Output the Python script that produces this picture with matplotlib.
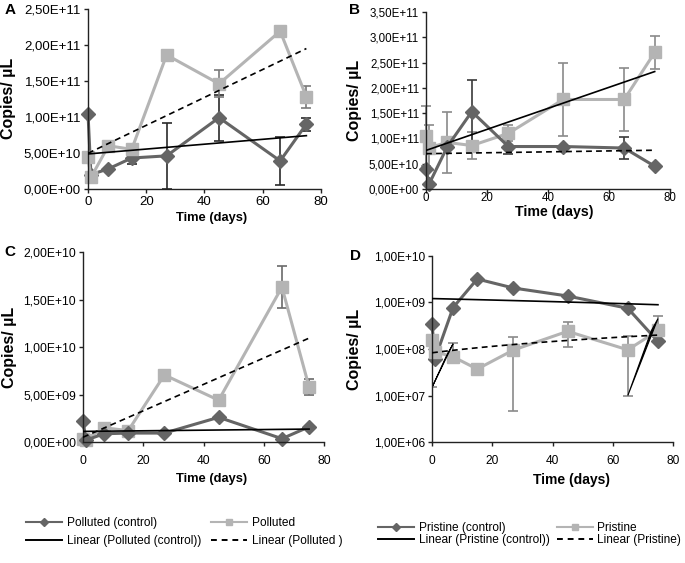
import matplotlib.pyplot as plt
import numpy as np
from matplotlib.lines import Line2D
from matplotlib.ticker import FixedLocator, FuncFormatter, NullLocator

plt.rcParams['font.family'] = ['Liberation Sans', 'DejaVu Sans']

# sampling days
days_polluted = [0, 1, 7, 15, 27, 45, 66, 75]
days_pristine = [0, 1, 7, 15, 27, 45, 65, 75]

nan = np.nan

# A - polluted site (copies/uL)
a_ctrl = [1.04e11, 2.0e10, 2.8e10, 4.3e10, 4.6e10, 9.9e10, 3.9e10, 9.0e10]
a_ctrl_err = [nan, nan, nan, 0.8e10, 4.6e10, 3.2e10, 3.3e10, 0.9e10]
a_treat = [4.4e10, 1.6e10, 6.0e10, 5.5e10, 1.86e11, 1.46e11, 2.19e11, 1.28e11]
a_treat_err = [nan, nan, nan, nan, nan, 1.9e10, nan, 1.5e10]

# B - pristine site
b_ctrl = [3.9e10, 1.0e10, 8.4e10, 1.53e11, 8.4e10, 8.4e10, 8.1e10, 4.5e10]
b_ctrl_err = [nan, nan, nan, 6.3e10, 1.5e10, nan, 2.1e10, nan]
b_treat = [1.05e11, 0.82e11, 0.92e11, 0.86e11, 1.10e11, 1.77e11, 1.77e11, 2.70e11]
b_treat_err = [6.0e10, 4.5e10, 6.0e10, 2.6e10, 1.6e10, 7.2e10, 6.3e10, 3.3e10]

# C - polluted site, second gene
c_ctrl = [2.2e9, 2.0e8, 8.7e8, 9.4e8, 9.4e8, 2.6e9, 3.5e8, 1.6e9]
c_ctrl_err = [nan] * 8
c_treat = [3.5e8, 2.4e8, 1.5e9, 1.2e9, 7.06e9, 4.4e9, 1.63e10, 5.8e9]
c_treat_err = [nan, nan, nan, nan, nan, nan, 2.2e9, 0.85e9]

# D - pristine site, second gene (log axis, asymmetric bars as low/high bounds)
d_ctrl = [3.5e8, 6.2e7, 7.8e8, 3.2e9, 2.05e9, 1.38e9, 7.5e8, 1.45e8]
d_treat = [1.55e8, 8.7e7, 6.8e7, 3.7e7, 9.5e7, 2.4e8, 9.6e7, 2.5e8]
d_treat_lo = [1.5e7, nan, 6.8e7, nan, 4.6e6, 1.1e8, 1.0e7, 2.0e8]
d_treat_hi = [1.55e8, nan, 1.35e8, nan, 1.8e8, 3.8e8, 1.9e8, 5.0e8]
# black wedges left by the spreadsheet's error bars on the log axis
wedge_x0 = [0, 65]
wedge_y0 = [1.5e7, 1.0e7]
wedge_x1 = [7, 75]
wedge_y1 = [1.3e8, 4.5e8]

dark = '#656565'
light = '#b4b4b4'


def sci_comma(v, pos):
    return f'{v:.2E}'.replace('.', ',')


def style_axis(ax, ymax, ystep, tick_fs, xlab_fs, log=False):
    for s in ['top', 'right']:
        ax.spines[s].set_visible(False)
    for s in ['left', 'bottom']:
        ax.spines[s].set_linewidth(1.0)
        ax.spines[s].set_color('#222222')
    ax.set_xlim(0, 80)
    ax.set_xticks([0, 20, 40, 60, 80])
    if log:
        ax.set_yscale('log')
        ax.set_ylim(1e6, 1e10)
        ax.yaxis.set_major_locator(FixedLocator([1e6, 1e7, 1e8, 1e9, 1e10]))
        ax.yaxis.set_minor_locator(NullLocator())
    else:
        ax.set_ylim(0, ymax)
        ax.set_yticks(np.arange(0, ymax + ystep / 2, ystep))
    ax.yaxis.set_major_formatter(FuncFormatter(sci_comma))
    ax.tick_params(axis='both', labelsize=tick_fs, length=3, width=1, color='#222222', pad=2)
    ax.set_ylabel('Copies/ µL', fontsize=11.5, fontweight='bold')
    ax.set_xlabel('Time (days)', fontsize=xlab_fs, fontweight='bold', va='top')


def draw_series(ax, x, y, err, color, marker, ms, ecolor):
    x = np.array(x)
    y = np.array(y)
    if err is not None:
        err = np.array(err)
        m = ~np.isnan(err)
        ax.errorbar(x[m], y[m], yerr=err[m], fmt='none', ecolor=ecolor,
                    elinewidth=1.2, capsize=3.5, capthick=1.2, zorder=1.5, clip_on=False)
    ax.plot(x, y, color=color, lw=2.2, marker=marker, ms=ms, zorder=2, clip_on=False)


def trend(ax, x, y, ls):
    k, b = np.polyfit(x, y, 1)
    xs = np.linspace(0, x[-1], 60)
    ax.plot(xs, k * xs + b, color='black', lw=1.2, ls=ls, zorder=3)


fig = plt.figure(figsize=(6.85, 5.63), dpi=100)
axA = fig.add_axes([0.1285, 0.6643, 0.340, 0.320])
axB = fig.add_axes([0.622, 0.6643, 0.356, 0.3144])
axC = fig.add_axes([0.1212, 0.2149, 0.352, 0.3375])
axD = fig.add_axes([0.6307, 0.2149, 0.3518, 0.3304])

dashed = (0, (3.5, 2.5))

# A
draw_series(axA, days_polluted, a_ctrl, a_ctrl_err, dark, 'D', 6.8, '#2a2a2a')
draw_series(axA, days_polluted, a_treat, a_treat_err, light, 's', 8, '#7a7a7a')
trend(axA, days_polluted, a_ctrl, '-')
trend(axA, days_polluted, a_treat, dashed)
style_axis(axA, 2.5e11, 0.5e11, 9.5, 9.3)

# B (trendline styles are swapped in the original)
draw_series(axB, days_pristine, b_treat, b_treat_err, light, 's', 8, '#8a8a8a')
draw_series(axB, days_pristine, b_ctrl, b_ctrl_err, dark, 'D', 6.8, '#3a3a3a')
trend(axB, days_pristine, b_treat, '-')
trend(axB, days_pristine, b_ctrl, dashed)
style_axis(axB, 3.5e11, 0.5e11, 8.3, 10.2)
axB.tick_params(axis='x', pad=-1)

# C
draw_series(axC, days_polluted, c_treat, c_treat_err, light, 's', 8, '#6a6a6a')
draw_series(axC, days_polluted, c_ctrl, c_ctrl_err, dark, 'D', 6.8, '#3a3a3a')
trend(axC, days_polluted, c_ctrl, '-')
trend(axC, days_polluted, c_treat, dashed)
style_axis(axC, 2.0e10, 0.5e10, 8.7, 9.3)
axC.tick_params(axis='x', pad=6.3)

# D
style_axis(axD, None, None, 8.6, 10, log=True)
axD.tick_params(axis='x', pad=6.3)
dx = np.array(days_pristine)
lo = np.array(d_treat_lo)
hi = np.array(d_treat_hi)
yt = np.array(d_treat)
m = ~np.isnan(lo)
axD.errorbar(dx[m], yt[m], yerr=[yt[m] - lo[m], hi[m] - yt[m]], fmt='none',
             ecolor='#8a8a8a', elinewidth=1.2, capsize=3.5, capthick=1.2, zorder=1.5)
for x0, y0, x1, y1 in zip(wedge_x0, wedge_y0, wedge_x1, wedge_y1):
    axD.fill([x0, x1, x1 - 2.2], [y0, y1, y1 * 0.55], color='black', lw=0.8, zorder=2.5)
axD.plot(dx, d_ctrl, color=dark, lw=2.2, marker='D', ms=6.8, zorder=2, clip_on=False)
axD.plot(dx, d_treat, color=light, lw=2.2, marker='s', ms=8, zorder=2, clip_on=False)
trend(axD, days_pristine, d_ctrl, '-')
trend(axD, days_pristine, d_treat, dashed)

# label positions (y label x-coord is the right edge of the rotated text)
axA.yaxis.set_label_coords(-0.31, 0.5)
axB.yaxis.set_label_coords(-0.262, 0.5)
axC.yaxis.set_label_coords(-0.272, 0.5)
axD.yaxis.set_label_coords(-0.29, 0.5)
axA.xaxis.set_label_coords(0.53, -0.128)
axB.xaxis.set_label_coords(0.525, -0.09)
axC.xaxis.set_label_coords(0.535, -0.163)
axD.xaxis.set_label_coords(0.577, -0.167)

fig.text(0.007, 0.983, 'A', fontsize=11, fontweight='bold', va='center')
fig.text(0.509, 0.982, 'B', fontsize=11, fontweight='bold', va='center')
fig.text(0.006, 0.552, 'C', fontsize=11, fontweight='bold', va='center')
fig.text(0.511, 0.546, 'D', fontsize=11, fontweight='bold', va='center')


# legends
def handles(names):
    return [
        Line2D([], [], color=dark, lw=1.5, marker='D', ms=4),
        Line2D([], [], color='black', lw=1.4),
        Line2D([], [], color=light, lw=1.5, marker='s', ms=4.5),
        Line2D([], [], color='black', lw=1.4, ls=(0, (3, 2.5))),
    ], names


leg_kw = dict(loc='upper left', ncol=2, frameon=False, fontsize=8.6,
              handlelength=3.0, handletextpad=0.4, borderpad=0, borderaxespad=0)
h, l = handles(['Polluted (control)', 'Linear (Polluted (control))',
                'Polluted', 'Linear (Polluted )'])
fig.legend(h, l, bbox_to_anchor=(0.038, 0.082), labelspacing=0.55,
           columnspacing=0.85, **leg_kw)
h, l = handles(['Pristine (control)', 'Linear (Pristine (control))',
                'Pristine', 'Linear (Pristine)'])
fig.legend(h, l, bbox_to_anchor=(0.552, 0.073), labelspacing=0.05,
           columnspacing=0.6, **leg_kw)

fig.savefig('out.png', dpi=100)
